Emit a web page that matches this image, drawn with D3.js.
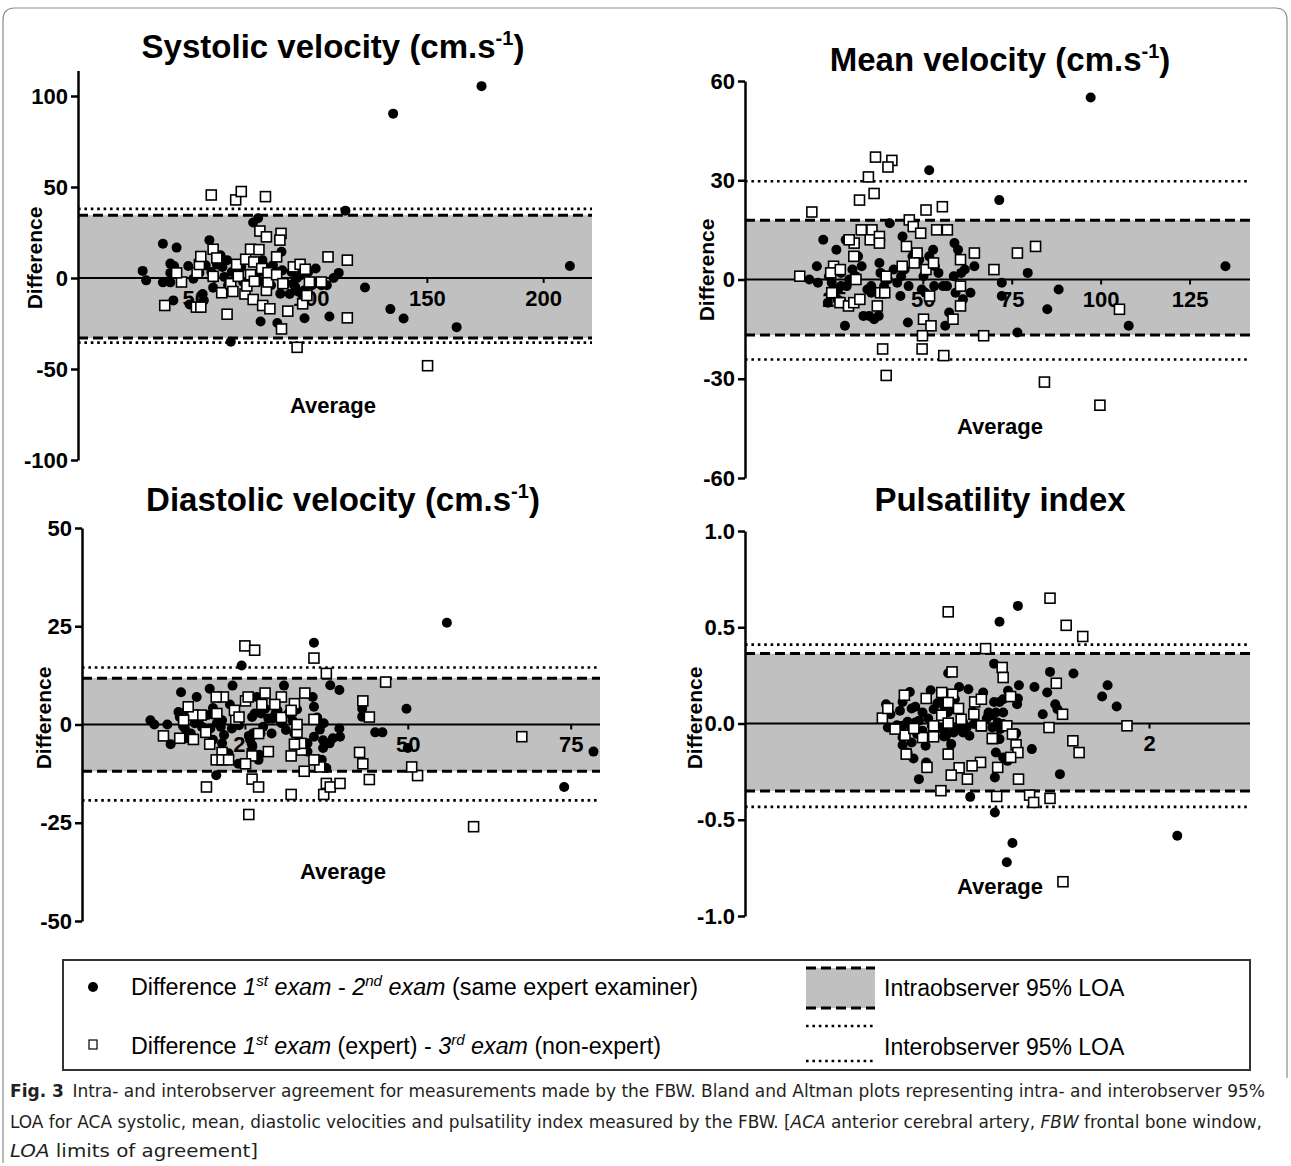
<!DOCTYPE html>
<html>
<head>
<meta charset="utf-8">
<script src="https://cdn.jsdelivr.net/npm/d3@7"></script>
<style>
body { margin: 0; background: #fff; }
text { font-family: "Liberation Sans", Arial, Helvetica, sans-serif; }
</style>
</head>
<body>
<script>
// ---- data: [average, difference] pairs ----
// Systolic velocity
var sysSame = [[27.8,3.9],[29.3,-1.3],[36.5,18.8],[36.5,-2.4],[39.7,7.9],[39.7,-2.4],[39.7,2.8],[41,-12.3],[42.4,16.7],[41.3,6.6],[47.4,6.6],[48,-14.5],[49.6,-0.4],[52.2,2.8],[53.6,-8.8],[54.1,-12.3],[54.9,7],[56.5,20.8],[57.3,3.3],[58.1,-5.3],[58.6,0],[59.7,7.4],[61.3,12.5],[62.1,6.1],[62.9,0.6],[64.1,9.8],[64.5,-4],[65.7,-35],[66.1,3.3],[68.6,1.5],[70.2,6.1],[71,-2.2],[72.1,9.8],[73,-4],[74.2,-0.4],[75.3,30.5],[77.4,32.8],[78.2,3.3],[78.5,-23.9],[79.3,9.8],[79.8,-2.2],[80.6,6.1],[81.4,-5],[83,-4],[83.8,7],[84.6,1.5],[85.7,-24.7],[86.2,3.3],[87,-8.6],[87.5,14.4],[87.8,4.2],[89.4,-3.1],[91,-8.8],[91.8,3.3],[92.6,-3.1],[93.4,-5],[94.2,0],[95,-7.7],[95.8,1.5],[97.4,-22.1],[97.4,-6.8],[99,3.3],[100.6,-4],[102.2,5.2],[103,-2.2],[104.6,-4],[107,-4],[108.1,-21.2],[109.9,0],[112.1,2.8],[115,37],[123.4,-5.2],[134.3,-17.1],[135.5,90.3],[140,-22.3],[162.8,-27],[173.5,105.4],[211.5,6.6]];
var sysNovice = [[57.3,45.6],[67.8,42.9],[70.2,47.5],[80.6,44.7],[37.3,-15.1],[44.5,-2.2],[42.4,2.8],[50.9,-16],[52.8,-16],[51.2,2.9],[52.2,7.4],[52.8,11.8],[58.1,15.8],[59.7,11],[58.1,0.9],[61.8,-8.1],[64.1,-19.9],[65.7,-3.1],[66.6,-7.4],[68.2,7.5],[68.9,0.9],[71.8,-8.8],[72.1,10.3],[72.6,-4.4],[74.2,1.8],[74.2,15.8],[75.3,-11.8],[75.6,8.8],[75.8,-1.8],[77.8,15.6],[78.2,25.8],[79,5.2],[79.4,-15.1],[81,22.6],[81,-6.8],[81.7,-2.2],[81.7,2.9],[82.5,-16.9],[85.4,11.6],[85.4,1.8],[87.3,24.5],[87.5,-28],[86.8,20.8],[88.1,-3.1],[90.2,-18.2],[92.6,6.1],[94.2,-38.1],[95.5,7.5],[96.6,-14.2],[97.7,4.8],[98.4,-9.6],[99.5,-2.2],[104.6,-2.2],[107.5,11.6],[115.8,9.8],[115.8,-21.9],[150.3,-48.2]];
var sysLimits = [-35.5, -33, 34.5, 38];   // inter low, intra low, intra high, inter high
var sysXTicks = [50, 100, 150, 200];
var sysYTicks = [-100, -50, 0, 50, 100];

// Mean velocity
var meanSame = [[97.2,55],[51.8,33],[71.5,24],[135.1,4],[79.5,2],[88.2,-3],[85,-9],[107.9,-14],[76.6,-16],[72.2,-1],[72.2,-5],[64.5,4],[63.4,-4],[61.8,3],[60.8,2],[58.9,11],[59.9,9],[58.7,1],[61.3,-6],[59.2,-4],[57.4,-10],[56.3,-14],[56.8,-2],[54.4,2],[53.4,4],[52.9,9],[51.8,7],[50.2,1],[49,6],[48.1,5],[47.1,7],[46,-2],[44.9,3],[43.7,-5],[45.8,-13],[43.9,1],[42.8,-1],[41.8,3],[40.7,17],[40.2,0],[39.1,-2],[38.1,2],[37.8,5],[37.6,-11],[36.3,-12],[34.9,-11],[33.3,-11],[35.5,-2],[34.4,-3],[32.8,4],[31.8,7],[31.2,1],[30.2,3],[29.3,0],[28.6,-2],[28.1,-14],[28.3,12],[27,2],[26.2,-3],[25.7,9],[24.9,4],[24.4,-1],[23.3,-7],[23.6,1],[22,12],[20.5,-1],[20.2,4],[18.1,0],[15.4,1],[27,-2],[26,-6],[35.5,-4],[39.5,1],[49.7,-3],[50.7,-4],[53.2,-2],[55.7,-2],[44.3,13]];
var meanNovice = [[36.7,37],[41.3,36],[40.2,34],[34.7,31],[36.3,26],[32.2,24],[18.8,20.4],[50.9,21],[55.5,22],[46.2,18],[47.3,16],[49.4,14],[53.9,15],[56.9,15],[32.7,15],[35.7,15],[35.2,12],[37.8,13],[37.8,11],[30.7,11],[29.3,12],[45.4,10],[48.4,8],[30.6,7],[60.6,6],[64.5,8],[70,3],[76.6,8],[81.7,10],[50.9,3],[53,5],[44.2,4],[24.9,4],[24.1,2],[26.8,3],[31.2,0],[24.4,-4],[26.7,-7],[29.1,-8],[30.6,-7],[32.3,-6],[37.2,-8],[38.1,-4],[39.3,-4],[39.7,1],[60.6,-2],[60.6,-8],[51.9,-5],[50.2,-12],[52.3,-14],[58.5,-12],[49.9,-17],[49.8,-21],[38.7,-21],[55.9,-23],[67.1,-17],[39.7,-29],[84.2,-31],[99.8,-38],[105.3,-9],[15.4,1],[47.6,5]];
var meanLimits = [-24.2, -16.8, 17.9, 29.7];
var meanXTicks = [25, 50, 75, 100, 125];
var meanYTicks = [-60, -30, 0, 30, 60];

// Diastolic velocity
var diaSame = [[56,25.9],[35.6,20.8],[24.5,15],[49.8,4],[50,-6],[74,-15.9],[78.5,-6.9],[45,-2],[46.1,-2],[43,4],[43,2],[38.1,10],[39.5,8.8],[39.5,-1],[39.6,-3.1],[38.5,-3.5],[38,-4.8],[37,-6],[37,-4],[36.5,-1.3],[37.1,0.3],[37.5,-11.1],[36.8,-9],[36.1,1.8],[35.6,-3.1],[35.6,4.5],[35.4,7],[34.6,-4.8],[34.6,-6.9],[34,-11.9],[33,3.8],[32.6,-2.3],[32.3,1.1],[31.7,2.8],[31.3,-1.4],[31,9.9],[30.6,0.3],[30,3.6],[29.7,2.8],[29.2,1.5],[29.1,-2.3],[28.6,1.5],[28.1,4],[27.8,-0.6],[27.5,2.8],[27.4,-2.3],[27.2,-7.7],[27.1,-9],[26.8,7],[26.5,2.8],[26.2,-2.3],[26.1,1.9],[25.8,-3.9],[25.6,-2.9],[26.1,-5.2],[24.1,-0.2],[24,-10],[23.5,3.2],[23.1,9.9],[23,-1],[22.7,5.1],[22.5,-7.3],[21.8,-2.7],[21.5,-4.8],[21.5,1.1],[21.3,-0.6],[20.7,0.4],[20.1,4.2],[20.1,-3.9],[19.7,-1],[19.6,9.1],[20.6,-12.9],[19.3,2.4],[19,-1.8],[18.4,-0.6],[17.9,1.1],[17.6,7],[17.3,0.3],[17,-3.9],[16.7,-2.3],[16.5,-2.7],[16.1,3.6],[15.8,-1],[15.5,-0.4],[15.2,8.2],[15,1.9],[14.8,3.2],[13.6,-5],[13.1,0],[11.1,0],[10.5,1.1],[16.1,-3.5]];
var diaNovice = [[25,20],[26.5,18.9],[35.6,16.9],[37.5,13],[46.6,10.8],[43.1,6],[44.1,1.9],[42.6,-7.1],[43.1,-10],[44.1,-14],[51.5,-13],[50.6,-10.8],[67.5,-3.1],[60.1,-26],[25.6,-22.9],[26.1,-13.9],[27.1,-15.9],[19.1,-15.9],[32.1,-17.8],[37.1,-17.8],[37.5,-15],[38.1,-15.9],[39.6,-15],[36.5,-10.8],[35.6,-9],[34.1,-11.9],[33.7,-6.5],[33.6,-4.8],[32.6,-5],[32.1,-8],[33,-2],[33,0],[32.6,5.3],[30.6,7],[29.6,5.1],[30.6,1.8],[32.1,3.6],[34.2,8],[35.6,1.3],[28.1,8],[27.6,5.1],[28.6,-6.9],[26.1,-8],[25.1,-10],[25.1,6],[25.5,7],[27.1,-2.3],[23.6,1.3],[23.4,3.6],[21.7,7],[20.6,7],[20.7,2.8],[21.5,-7.1],[20.6,-9],[21.5,-9],[22.5,-9],[19.6,-5],[19,-2],[18.3,2.4],[17,2.4],[17.1,-3.8],[16.3,4.5],[15,-3.5],[12.5,-2.9],[15.6,1.1],[24.1,1.9]];
var diaLimits = [-19.3, -11.9, 11.8, 14.5];
var diaXTicks = [25, 50, 75];
var diaYTicks = [-50, -25, 0, 25, 50];

// Pulsatility index
var piSame = [[1.351,0.611],[1.26,0.529],[2.14,-0.583],[1.324,-0.621],[1.296,-0.721],[1.237,-0.462],[1.115,-0.381],[0.861,-0.289],[1.559,-0.263],[1.42,-0.133],[1.233,0.311],[1.51,0.268],[1.496,0.161],[1.356,0.199],[1.351,0.13],[1.347,0.1],[1.795,0.199],[1.768,0.14],[1.84,0.088],[1.536,0.1],[1.547,0.074],[1.474,0.048],[1.433,0.19],[1.626,0.26],[1.302,0.17],[1.278,0.126],[1.26,0.112],[1.233,0.112],[1.224,0.043],[1.206,0.057],[1.197,0.026],[1.264,-0.029],[1.26,-0.081],[1.278,-0.176],[1.3,-0.194],[1.242,-0.151],[1.237,-0.28],[1.342,-0.05],[1.278,-0.003],[1.179,0.161],[1.106,0.178],[1.06,0.19],[1.006,0.261],[1.039,0.126],[1.033,0.074],[1.021,0.074],[1.003,0.057],[0.988,0.083],[0.97,0.112],[0.952,0.105],[0.934,0.074],[0.919,0.173],[0.879,0.057],[0.907,0.026],[0.861,0.014],[0.843,0.005],[0.816,0.164],[0.825,0.078],[0.843,0.087],[0.78,0.112],[0.767,0.066],[0.72,0.048],[0.698,0.1],[0.707,-0.021],[0.752,-0.009],[0.78,-0.012],[0.805,0.009],[0.823,-0.021],[0.78,-0.073],[0.78,-0.112],[0.805,-0.151],[0.834,-0.182],[0.825,-0.099],[0.852,-0.055],[0.879,-0.038],[0.894,-0.116],[0.897,-0.202],[0.925,-0.012],[0.943,-0.029],[0.974,-0.026],[0.985,-0.067],[0.997,-0.061],[1.021,-0.107],[1.033,-0.047],[1.051,-0.026],[1.064,-0.009],[1.079,0.009],[1.097,-0.021],[1.111,-0.064],[1.079,-0.047],[1.128,0.061],[1.133,-0.003],[1.206,0.048],[1.242,0.057],[1.251,0.005],[1.333,-0.064],[1.224,-0.021],[1.278,0.057],[1.079,-0.012],[0.997,-0.05]];
var piNovice = [[1.006,0.58],[1.51,0.651],[1.59,0.51],[1.672,0.452],[1.191,0.389],[1.025,0.268],[1.273,0.291],[1.278,0.239],[1.541,0.209],[1.315,0.14],[1.572,0.048],[1.505,-0.021],[1.891,-0.012],[1.623,-0.09],[1.654,-0.151],[1.354,-0.289],[1.342,-0.111],[1.351,-0.151],[1.315,-0.176],[1.296,-0.012],[1.324,-0.055],[1.251,-0.228],[1.228,-0.078],[1.17,-0.012],[1.166,-0.202],[1.124,-0.22],[1.06,-0.23],[1.021,-0.268],[1.101,-0.289],[0.97,-0.349],[1.006,-0.159],[1.246,-0.379],[1.409,-0.372],[1.429,-0.41],[1.51,-0.389],[1.574,-0.822],[0.901,-0.228],[0.879,-0.073],[0.934,-0.069],[0.798,-0.159],[0.792,-0.061],[0.836,-0.026],[0.743,-0.029],[0.68,0.028],[0.707,0.078],[0.789,0.147],[0.897,0.13],[0.974,0.161],[1.028,0.152],[1.006,0.109],[1.057,0.078],[0.974,0.043],[1.006,0.002],[0.934,-0.012],[1.07,0.022],[1.133,0.048],[1.137,0.112],[1.17,0.126],[1.17,-0.012],[1.224,-0.078]];
var piLimits = [-0.433, -0.35, 0.363, 0.41];
var piXTicks = [1, 2];
var piYTicks = [-1, -0.5, 0, 0.5, 1];

//page size
var width = 1291,
    height = 1166;

var svg = d3.select("body")
    .append("svg")
    .attr("width", width)
    .attr("height", height);

//outer frame of the figure
svg.append("path")
    .attr("d", "M3,1163 L3,20 Q3,8 15,8 L1275,8 Q1287,8 1287,20 L1287,1078")
    .attr("fill", "none")
    .attr("stroke", "#8a8a8a")
    .attr("stroke-width", 1.2);

//plain hyphen for negative numbers, as in the figure
function hyphen(fmt){
    return function(d){ return fmt(d).replace("\u2212", "-"); };
}

//panel layouts
var panels = [
    {title: "Systolic velocity (cm.s", sup: "-1", titleX: 333, titleY: 58,
     same: sysSame, novice: sysNovice, limits: sysLimits, xTicks: sysXTicks, yTicks: sysYTicks,
     xDomain: [0, 221], xRange: [78, 592], yDomain: [-100, 114], yRange: [460, 70.5],
     yFmt: hyphen(d3.format("d")), diffX: 35, diffY: 258, avgX: 333, avgY: 413},
    {title: "Mean velocity (cm.s", sup: "-1", titleX: 1000, titleY: 71,
     same: meanSame, novice: meanNovice, limits: meanLimits, xTicks: meanXTicks, yTicks: meanYTicks,
     xDomain: [0, 142], xRange: [745, 1250], yDomain: [-60, 60], yRange: [478, 81],
     yFmt: hyphen(d3.format("d")), diffX: 707, diffY: 270, avgX: 1000, avgY: 434},
    {title: "Diastolic velocity (cm.s", sup: "-1", titleX: 343, titleY: 511,
     same: diaSame, novice: diaNovice, limits: diaLimits, xTicks: diaXTicks, yTicks: diaYTicks,
     xDomain: [0, 79.5], xRange: [82, 600], yDomain: [-50, 50], yRange: [921, 528],
     yFmt: hyphen(d3.format("d")), diffX: 44, diffY: 718, avgX: 343, avgY: 879},
    {title: "Pulsatility index", sup: null, titleX: 1000, titleY: 511,
     same: piSame, novice: piNovice, limits: piLimits, xTicks: piXTicks, yTicks: piYTicks,
     xDomain: [0, 2.5], xRange: [745, 1250], yDomain: [-1, 1], yRange: [916, 531],
     yFmt: hyphen(d3.format(".1f")), diffX: 695, diffY: 718, avgX: 1000, avgY: 894}
];

panels.forEach(drawPanel);

function drawPanel(p){
    var x = d3.scaleLinear().domain(p.xDomain).range(p.xRange);
    var y = d3.scaleLinear().domain(p.yDomain).range(p.yRange);
    var x0 = p.xRange[0], x1 = p.xRange[1];
    var g = svg.append("g");

    //intraobserver band
    g.append("rect")
        .attr("x", x0)
        .attr("y", y(p.limits[2]))
        .attr("width", x1 - x0)
        .attr("height", y(p.limits[1]) - y(p.limits[2]))
        .attr("fill", "#c0c0c0");

    //x axis sits on the zero line
    var xAxis = d3.axisBottom(x)
        .tickValues(p.xTicks)
        .tickSize(5)
        .tickSizeOuter(0)
        .tickPadding(7)
        .tickFormat(d3.format("d"));
    var xg = g.append("g")
        .attr("transform", "translate(0," + y(0) + ")")
        .call(xAxis);
    xg.select(".domain").remove();
    xg.selectAll("line").attr("stroke", "#000").attr("stroke-width", 2);
    xg.selectAll("text")
        .attr("fill", "#000")
        .style("font-size", "22px")
        .style("font-weight", "bold")
        .style("font-family", "'Liberation Sans', Arial, sans-serif");

    //limits of agreement
    [p.limits[1], p.limits[2]].forEach(function(v){
        g.append("line")
            .attr("x1", x0).attr("x2", x1)
            .attr("y1", y(v)).attr("y2", y(v))
            .attr("stroke", "#000")
            .attr("stroke-width", 3)
            .attr("stroke-dasharray", "10,5");
    });
    [p.limits[0], p.limits[3]].forEach(function(v){
        g.append("line")
            .attr("x1", x0).attr("x2", x1)
            .attr("y1", y(v)).attr("y2", y(v))
            .attr("stroke", "#000")
            .attr("stroke-width", 2.6)
            .attr("stroke-dasharray", "2.6,3.8");
    });

    //zero line
    g.append("line")
        .attr("x1", x0).attr("x2", x1)
        .attr("y1", y(0)).attr("y2", y(0))
        .attr("stroke", "#000")
        .attr("stroke-width", 2);

    //same examiner: filled circles
    g.selectAll(".same")
        .data(p.same)
        .enter()
        .append("circle")
        .attr("class", "same")
        .attr("cx", function(d){ return x(d[0]); })
        .attr("cy", function(d){ return y(d[1]); })
        .attr("r", 5)
        .attr("fill", "#000");

    //expert vs non-expert: open squares
    g.selectAll(".novice")
        .data(p.novice)
        .enter()
        .append("rect")
        .attr("class", "novice")
        .attr("x", function(d){ return x(d[0]) - 5; })
        .attr("y", function(d){ return y(d[1]) - 5; })
        .attr("width", 10)
        .attr("height", 10)
        .attr("fill", "#fff")
        .attr("stroke", "#000")
        .attr("stroke-width", 1.6);

    //y axis
    var yAxis = d3.axisLeft(y)
        .tickValues(p.yTicks)
        .tickSize(7)
        .tickSizeOuter(0)
        .tickPadding(3)
        .tickFormat(p.yFmt);
    var yg = g.append("g")
        .attr("transform", "translate(" + x0 + ",0)")
        .call(yAxis);
    yg.select(".domain").attr("stroke", "#000").attr("stroke-width", 2.5);
    yg.selectAll("line").attr("stroke", "#000").attr("stroke-width", 2.5);
    yg.selectAll("text")
        .attr("fill", "#000")
        .style("font-size", "22px")
        .style("font-weight", "bold")
        .style("font-family", "'Liberation Sans', Arial, sans-serif");

    //titles
    var t = g.append("text")
        .attr("x", p.titleX)
        .attr("y", p.titleY)
        .attr("text-anchor", "middle")
        .style("font-size", "33px")
        .style("font-weight", "bold")
        .text(p.title);
    if (p.sup){
        t.append("tspan").attr("dy", -13).style("font-size", "20px").text(p.sup);
        t.append("tspan").attr("dy", 13).text(")");
    }

    g.append("text")
        .attr("transform", "translate(" + (p.diffX + 7) + "," + p.diffY + ") rotate(-90)")
        .attr("text-anchor", "middle")
        .style("font-size", "21px")
        .style("font-weight", "bold")
        .text("Difference");

    g.append("text")
        .attr("x", p.avgX)
        .attr("y", p.avgY)
        .attr("text-anchor", "middle")
        .style("font-size", "22px")
        .style("font-weight", "bold")
        .text("Average");
}

//legend
var legend = svg.append("g");
legend.append("rect")
    .attr("x", 63).attr("y", 960)
    .attr("width", 1187).attr("height", 110)
    .attr("fill", "none")
    .attr("stroke", "#333")
    .attr("stroke-width", 2);

legend.append("circle")
    .attr("cx", 93).attr("cy", 987).attr("r", 5).attr("fill", "#000");
legend.append("rect")
    .attr("x", 89).attr("y", 1040).attr("width", 8).attr("height", 9)
    .attr("fill", "#fff").attr("stroke", "#000").attr("stroke-width", 1.2);

function legendLine(yPos, len, parts){
    var t = legend.append("text")
        .attr("x", 131).attr("y", yPos)
        .attr("textLength", len)
        .attr("lengthAdjust", "spacingAndGlyphs")
        .style("font-size", "23px");
    parts.forEach(function(pt){
        var s = t.append("tspan").text(pt.s);
        if (pt.i) s.style("font-style", "italic");
        if (pt.sup){
            s.style("font-size", "15px").attr("dy", -9);
        }
        if (pt.down) s.attr("dy", 9);
    });
}
legendLine(995, 567, [
    {s: "Difference "}, {s: "1", i: 1}, {s: "st", i: 1, sup: 1}, {s: " exam", i: 1, down: 1},
    {s: " - "}, {s: "2", i: 1}, {s: "nd", i: 1, sup: 1}, {s: " exam", i: 1, down: 1},
    {s: " (same expert examiner)"}
]);
legendLine(1054, 530, [
    {s: "Difference "}, {s: "1", i: 1}, {s: "st", i: 1, sup: 1}, {s: " exam", i: 1, down: 1},
    {s: " (expert) - "}, {s: "3", i: 1}, {s: "rd", i: 1, sup: 1}, {s: " exam", i: 1, down: 1},
    {s: " (non-expert)"}
]);

legend.append("rect")
    .attr("x", 806).attr("y", 968).attr("width", 69).attr("height", 40)
    .attr("fill", "#c0c0c0");
[968, 1008].forEach(function(v){
    legend.append("line")
        .attr("x1", 806).attr("x2", 875).attr("y1", v).attr("y2", v)
        .attr("stroke", "#000").attr("stroke-width", 3).attr("stroke-dasharray", "10,5");
});
[1026, 1061].forEach(function(v){
    legend.append("line")
        .attr("x1", 806).attr("x2", 875).attr("y1", v).attr("y2", v)
        .attr("stroke", "#000").attr("stroke-width", 2.6).attr("stroke-dasharray", "2.6,3.8");
});
legend.append("text").attr("x", 884).attr("y", 996).style("font-size", "23px").text("Intraobserver 95% LOA");
legend.append("text").attr("x", 884).attr("y", 1055).style("font-size", "23px").text("Interobserver 95% LOA");

//caption
var capFont = "'Liberation Sans Narrow', 'DejaVu Sans Condensed', 'Liberation Sans', sans-serif";
function captionLine(yPos, len, parts){
    var t = svg.append("text")
        .attr("x", 10).attr("y", yPos)
        .style("font-size", "18px")
        .style("font-family", capFont)
        .attr("fill", "#231f20");
    if (len) t.attr("textLength", len).attr("lengthAdjust", "spacingAndGlyphs");
    parts.forEach(function(pt){
        var s = t.append("tspan").text(pt.s);
        if (pt.b) s.style("font-weight", "bold");
        if (pt.i) s.style("font-style", "italic");
    });
}
captionLine(1097, 1255, [
    {s: "Fig. 3", b: 1},
    {s: "\u2002Intra- and interobserver agreement for measurements made by the FBW. Bland and Altman plots representing intra- and interobserver 95%"}
]);
captionLine(1128, 1252, [
    {s: "LOA for ACA systolic, mean, diastolic velocities and pulsatility index measured by the FBW. ["},
    {s: "ACA", i: 1}, {s: " anterior cerebral artery, "}, {s: "FBW", i: 1}, {s: " frontal bone window,"}
]);
captionLine(1157, 248, [
    {s: "LOA", i: 1}, {s: " limits of agreement]"}
]);
</script>
</body>
</html>
